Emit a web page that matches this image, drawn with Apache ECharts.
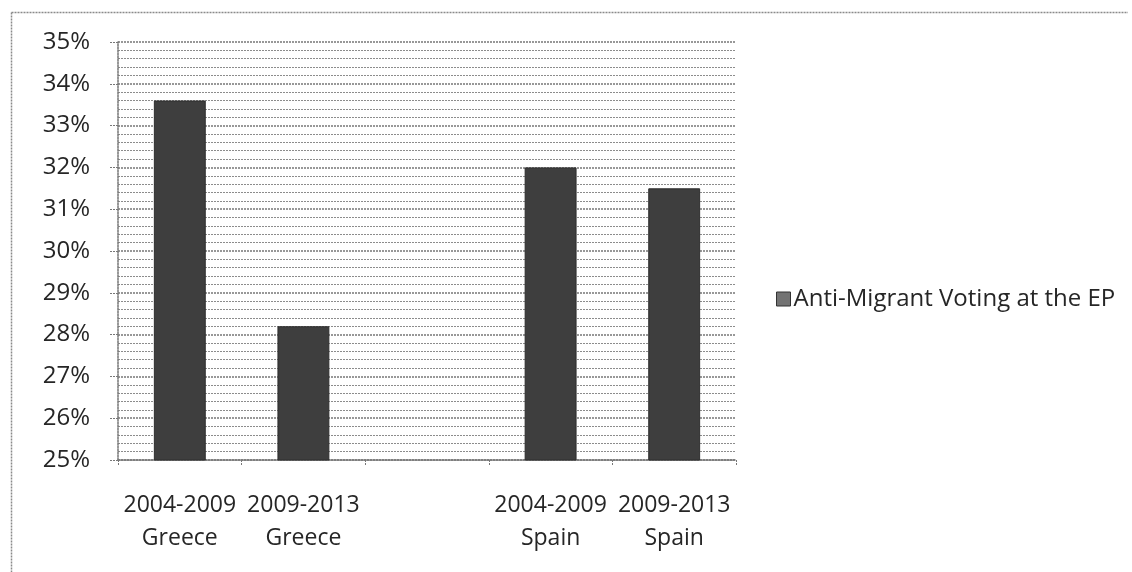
<!DOCTYPE html>
<html>
<head>
<meta charset="utf-8">
<script src="https://cdn.jsdelivr.net/npm/echarts@6/dist/echarts.min.js"></script>
<style>
  html, body { margin: 0; padding: 0; background: #fff; }
  #chart { width: 1132px; height: 572px; }
</style>
</head>
<body>
<div id="chart"></div>
<script>
// Share of anti-migrant votes at the European Parliament, by term and country
const categories = ['2004-2009\nGreece', '2009-2013\nGreece', '', '2004-2009\nSpain', '2009-2013\nSpain'];
const seriesName = 'Anti-Migrant Voting at the EP';
const voteShare = [33.6, 28.2, null, 32.0, 31.5];
const yMin = 25;
const yMax = 35;
const yStep = 1;

const FONT = '"Open Sans", "Noto Sans", sans-serif';
const TEXT = '#262626';
const frame = { stroke: '#8a8a8a', lineWidth: 1.5, lineDash: [2, 1] };
const chart = echarts.init(document.getElementById('chart'), null, { renderer: 'canvas' });

chart.setOption({
  backgroundColor: '#ffffff',
  animation: false,
  // outer chart frame: top and left edges
  graphic: [
    { type: 'line', shape: { x1: 11.5, y1: 12.5, x2: 1128, y2: 12.5 }, style: frame, silent: true },
    { type: 'line', shape: { x1: 11.5, y1: 12.5, x2: 11.5, y2: 572 }, style: frame, silent: true }
  ],
  grid: { left: 118, top: 42, width: 618, height: 418, containLabel: false },
  legend: {
    data: [{ name: seriesName, itemStyle: { color: '#737373', borderColor: '#333', borderWidth: 1 } }],
    left: 771,
    top: 282,
    icon: 'rect',
    itemWidth: 14,
    itemHeight: 14,
    itemGap: 6,
    textStyle: { fontFamily: FONT, fontSize: 24, color: TEXT, padding: [0, 0, 0, -2] }
  },
  xAxis: {
    type: 'category',
    data: categories,
    axisLine: { lineStyle: { color: '#777', width: 1.5, type: [2, 1] } },
    axisTick: { show: true, alignWithLabel: false, length: 6, lineStyle: { color: '#777', type: [2, 1] } },
    axisLabel: {
      fontFamily: FONT, fontSize: 23, color: TEXT,
      margin: 29, lineHeight: 33, interval: 0
    },
    splitLine: { show: false }
  },
  yAxis: {
    type: 'value',
    min: yMin,
    max: yMax,
    interval: yStep,
    axisLine: { show: true, lineStyle: { color: '#777', width: 1.5, type: [2, 1] } },
    axisTick: { show: true, length: 8, lineStyle: { color: '#777', type: [2, 1] } },
    axisLabel: {
      formatter: '{value}%', fontFamily: FONT, fontSize: 24, color: TEXT, margin: 28
    },
    splitLine: { show: true, lineStyle: { color: '#777', width: 1.5, type: [2, 1] } },
    minorTick: { show: false, splitNumber: 5 },
    minorSplitLine: { show: true, lineStyle: { color: '#8c8c8c', width: 1.2, type: [2, 1] } }
  },
  series: [{
    name: seriesName,
    type: 'bar',
    data: voteShare,
    barWidth: '42%',
    itemStyle: { color: '#3e3e3e', borderColor: '#2e2e2e', borderWidth: 1 }
  }]
});
</script>
</body>
</html>
